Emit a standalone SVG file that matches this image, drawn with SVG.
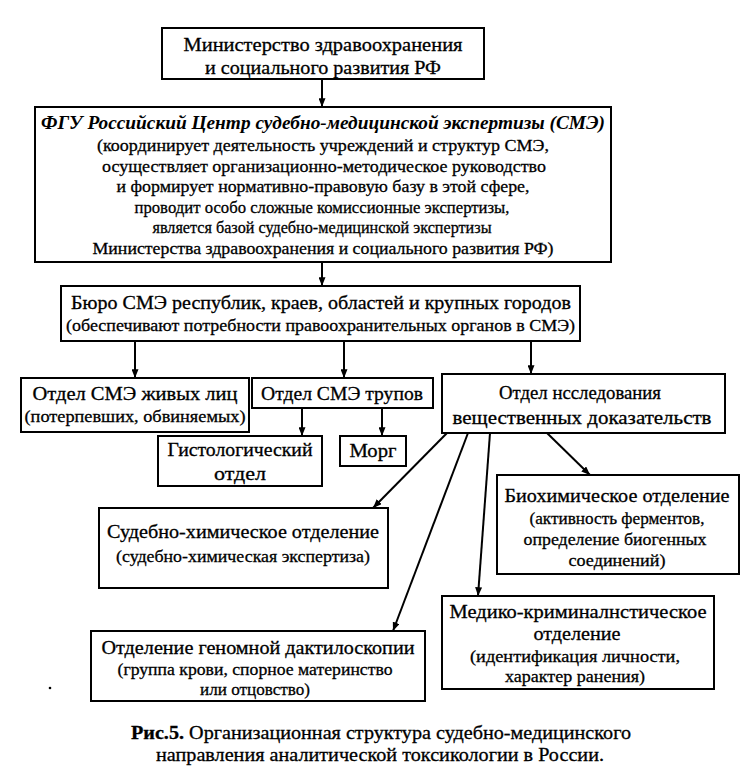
<svg xmlns="http://www.w3.org/2000/svg" width="756" height="780" viewBox="0 0 756 780">
<defs>
<marker id="ah" viewBox="0 0 10 8" refX="10" refY="4" markerWidth="9" markerHeight="7" markerUnits="userSpaceOnUse" orient="auto"><path d="M0,0L10,4L0,8z" fill="#000"/></marker>
</defs>
<rect width="756" height="780" fill="#fff"/>

<g id="connectors" stroke="#000" stroke-width="2" fill="none" marker-end="url(#ah)">
<line x1="322" y1="79" x2="322" y2="107"/>
<line x1="322" y1="262" x2="322" y2="286"/>
<line x1="135" y1="341" x2="135" y2="378"/>
<line x1="344" y1="341" x2="344" y2="378"/>
<line x1="531" y1="341" x2="531" y2="374"/>
<line x1="302" y1="408" x2="302" y2="436"/>
<line x1="382" y1="408" x2="382" y2="436"/>
<line x1="447" y1="433" x2="373" y2="508"/>
<line x1="468" y1="433" x2="393" y2="631"/>
<line x1="490" y1="433" x2="478" y2="596"/>
<line x1="547" y1="433" x2="590" y2="475"/>
</g>

<g id="ministry">
<rect x="162" y="28" width="322" height="51" fill="#fff" stroke="#000" stroke-width="2"/>
<text font-family="Liberation Serif" font-size="19" text-anchor="middle" stroke="#000" stroke-width="0.3" x="323" y="51" textLength="279" lengthAdjust="spacingAndGlyphs">Министерство здравоохранения</text>
<text font-family="Liberation Serif" font-size="19" text-anchor="middle" stroke="#000" stroke-width="0.3" x="323" y="74" textLength="236" lengthAdjust="spacingAndGlyphs">и социального развития РФ</text>
</g>

<g id="fgu">
<rect x="35" y="107" width="576" height="155" fill="#fff" stroke="#000" stroke-width="2"/>
<text font-family="Liberation Serif" font-size="19" font-weight="bold" font-style="italic" text-anchor="middle" x="323" y="129" textLength="564" lengthAdjust="spacingAndGlyphs">ФГУ Российский Центр судебно-медицинской экспертизы (СМЭ)</text>
<text font-family="Liberation Serif" font-size="17.5" text-anchor="middle" stroke="#000" stroke-width="0.3" x="323" y="151" textLength="452" lengthAdjust="spacingAndGlyphs">(координирует деятельность учреждений и структур СМЭ,</text>
<text font-family="Liberation Serif" font-size="17.5" text-anchor="middle" stroke="#000" stroke-width="0.3" x="324" y="171.5" textLength="444" lengthAdjust="spacingAndGlyphs">осуществляет организационно-методическое руководство</text>
<text font-family="Liberation Serif" font-size="17.5" text-anchor="middle" stroke="#000" stroke-width="0.3" x="323" y="192" textLength="413" lengthAdjust="spacingAndGlyphs">и формирует нормативно-правовую базу в этой сфере,</text>
<text font-family="Liberation Serif" font-size="17.5" text-anchor="middle" stroke="#000" stroke-width="0.3" x="322" y="212.5" textLength="375" lengthAdjust="spacingAndGlyphs">проводит особо сложные комиссионные экспертизы,</text>
<text font-family="Liberation Serif" font-size="17.5" text-anchor="middle" stroke="#000" stroke-width="0.3" x="322" y="233" textLength="339" lengthAdjust="spacingAndGlyphs">является базой судебно-медицинской экспертизы</text>
<text font-family="Liberation Serif" font-size="17.5" text-anchor="middle" stroke="#000" stroke-width="0.3" x="323" y="253.5" textLength="461" lengthAdjust="spacingAndGlyphs">Министерства здравоохранения и социального развития РФ)</text>
</g>

<g id="bureau">
<rect x="61" y="286" width="519" height="55" fill="#fff" stroke="#000" stroke-width="2"/>
<text font-family="Liberation Serif" font-size="19" text-anchor="middle" stroke="#000" stroke-width="0.3" x="321" y="309" textLength="500" lengthAdjust="spacingAndGlyphs">Бюро СМЭ республик, краев, областей и крупных городов</text>
<text font-family="Liberation Serif" font-size="17.5" text-anchor="middle" stroke="#000" stroke-width="0.3" x="320.5" y="331" textLength="509" lengthAdjust="spacingAndGlyphs">(обеспечивают потребности правоохранительных органов в СМЭ)</text>
</g>

<g id="living">
<rect x="21" y="378" width="228" height="54" fill="#fff" stroke="#000" stroke-width="2"/>
<text font-family="Liberation Serif" font-size="19" text-anchor="middle" stroke="#000" stroke-width="0.3" x="135" y="400" textLength="205" lengthAdjust="spacingAndGlyphs">Отдел СМЭ живых лиц</text>
<text font-family="Liberation Serif" font-size="17.5" text-anchor="middle" stroke="#000" stroke-width="0.3" x="135" y="422" textLength="221" lengthAdjust="spacingAndGlyphs">(потерпевших, обвиняемых)</text>
</g>

<g id="corpses">
<rect x="252" y="378" width="181" height="30" fill="#fff" stroke="#000" stroke-width="2"/>
<text font-family="Liberation Serif" font-size="19" text-anchor="middle" stroke="#000" stroke-width="0.3" x="342" y="400" textLength="162" lengthAdjust="spacingAndGlyphs">Отдел СМЭ трупов</text>
</g>

<g id="evidence">
<rect x="442" y="374" width="283" height="59" fill="#fff" stroke="#000" stroke-width="2"/>
<text font-family="Liberation Serif" font-size="19" text-anchor="middle" stroke="#000" stroke-width="0.3" x="580" y="399" textLength="162" lengthAdjust="spacingAndGlyphs">Отдел нсследования</text>
<text font-family="Liberation Serif" font-size="19" text-anchor="middle" stroke="#000" stroke-width="0.3" x="582" y="424" textLength="259" lengthAdjust="spacingAndGlyphs">вещественных доказательств</text>
</g>

<g id="histology">
<rect x="158" y="436" width="164" height="50" fill="#fff" stroke="#000" stroke-width="2"/>
<text font-family="Liberation Serif" font-size="19" text-anchor="middle" stroke="#000" stroke-width="0.3" x="240" y="456" textLength="145" lengthAdjust="spacingAndGlyphs">Гистологический</text>
<text font-family="Liberation Serif" font-size="19" text-anchor="middle" stroke="#000" stroke-width="0.3" x="240" y="480" textLength="52" lengthAdjust="spacingAndGlyphs">отдел</text>
</g>

<g id="morg">
<rect x="340" y="436" width="66" height="30" fill="#fff" stroke="#000" stroke-width="2"/>
<text font-family="Liberation Serif" font-size="19" text-anchor="middle" stroke="#000" stroke-width="0.3" x="373" y="457" textLength="47" lengthAdjust="spacingAndGlyphs">Морг</text>
</g>

<g id="biochem">
<rect x="497" y="475" width="242" height="99" fill="#fff" stroke="#000" stroke-width="2"/>
<text font-family="Liberation Serif" font-size="19" text-anchor="middle" stroke="#000" stroke-width="0.3" x="617" y="502" textLength="225" lengthAdjust="spacingAndGlyphs">Биохимическое отделение</text>
<text font-family="Liberation Serif" font-size="17.5" text-anchor="middle" stroke="#000" stroke-width="0.3" x="617" y="524" textLength="175" lengthAdjust="spacingAndGlyphs">(активность ферментов,</text>
<text font-family="Liberation Serif" font-size="17.5" text-anchor="middle" stroke="#000" stroke-width="0.3" x="615" y="545" textLength="183" lengthAdjust="spacingAndGlyphs">определение биогенных</text>
<text font-family="Liberation Serif" font-size="17.5" text-anchor="middle" stroke="#000" stroke-width="0.3" x="617" y="566" textLength="97" lengthAdjust="spacingAndGlyphs">соединений)</text>
</g>

<g id="sudchem">
<rect x="99" y="508" width="289" height="80" fill="#fff" stroke="#000" stroke-width="2"/>
<text font-family="Liberation Serif" font-size="19" text-anchor="middle" stroke="#000" stroke-width="0.3" x="243" y="538" textLength="272" lengthAdjust="spacingAndGlyphs">Судебно-химическое отделение</text>
<text font-family="Liberation Serif" font-size="17.5" text-anchor="middle" stroke="#000" stroke-width="0.3" x="243" y="562" textLength="254" lengthAdjust="spacingAndGlyphs">(судебно-химическая экспертиза)</text>
</g>

<g id="mediko">
<rect x="442" y="596" width="272" height="93" fill="#fff" stroke="#000" stroke-width="2"/>
<text font-family="Liberation Serif" font-size="19" text-anchor="middle" stroke="#000" stroke-width="0.3" x="578" y="618" textLength="257" lengthAdjust="spacingAndGlyphs">Медико-криминалнстическое</text>
<text font-family="Liberation Serif" font-size="19" text-anchor="middle" stroke="#000" stroke-width="0.3" x="577" y="640" textLength="87" lengthAdjust="spacingAndGlyphs">отделение</text>
<text font-family="Liberation Serif" font-size="17.5" text-anchor="middle" stroke="#000" stroke-width="0.3" x="575" y="662" textLength="210" lengthAdjust="spacingAndGlyphs">(идентификация личности,</text>
<text font-family="Liberation Serif" font-size="17.5" text-anchor="middle" stroke="#000" stroke-width="0.3" x="575" y="682" textLength="140" lengthAdjust="spacingAndGlyphs">характер ранения)</text>
</g>

<g id="genomic">
<rect x="91" y="631" width="334" height="70" fill="#fff" stroke="#000" stroke-width="2"/>
<text font-family="Liberation Serif" font-size="19" text-anchor="middle" stroke="#000" stroke-width="0.3" x="258" y="654" textLength="313" lengthAdjust="spacingAndGlyphs">Отделение геномной дактилоскопии</text>
<text font-family="Liberation Serif" font-size="17.5" text-anchor="middle" stroke="#000" stroke-width="0.3" x="255" y="675" textLength="275" lengthAdjust="spacingAndGlyphs">(группа крови, спорное материнство</text>
<text font-family="Liberation Serif" font-size="17.5" text-anchor="middle" stroke="#000" stroke-width="0.3" x="255" y="695" textLength="110" lengthAdjust="spacingAndGlyphs">или отцовство)</text>
</g>

<circle cx="50" cy="688" r="1.3" fill="#000"/>

<g id="caption">
<text font-family="Liberation Serif" font-size="19" text-anchor="middle" stroke="#000" stroke-width="0.3" x="381" y="739" textLength="500" lengthAdjust="spacingAndGlyphs"><tspan font-weight="bold">Рис.5.</tspan> Организационная структура судебно-медицинского</text>
<text font-family="Liberation Serif" font-size="19" text-anchor="middle" stroke="#000" stroke-width="0.3" x="380" y="761" textLength="448" lengthAdjust="spacingAndGlyphs">направления аналитической токсикологии в России.</text>
</g>
</svg>
